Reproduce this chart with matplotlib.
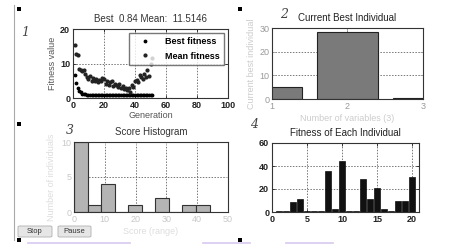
import matplotlib
matplotlib.use("Agg")
import matplotlib.pyplot as plt
from matplotlib.patches import Rectangle, FancyBboxPatch
from matplotlib.lines import Line2D

plt.rcParams['font.family'] = ['Liberation Sans', 'DejaVu Sans']

# data
generations = list(range(1, 52))
best_fitness = [6.7, 4.3, 2.8, 2.0, 1.6, 1.3, 1.2, 1.1, 1.0, 1.0,
                1.0, 1.0, 1.0, 1.0, 1.0, 1.0, 1.0, 1.0, 1.0, 1.0,
                0.95, 0.95, 0.95, 0.95, 0.95, 0.9, 0.9, 0.9, 0.9, 0.9,
                0.9, 0.9, 0.9, 0.9, 0.9, 0.88, 0.88, 0.88, 0.88, 0.88,
                0.86, 0.86, 0.86, 0.86, 0.86, 0.85, 0.85, 0.84, 0.84, 0.84, 0.84]
mean_fitness = [15.5, 12.8, 12.5, 8.5, 8.2, 7.8, 8.0, 7.0, 6.2, 5.5,
                6.5, 5.0, 5.8, 4.8, 5.5, 4.5, 5.2, 4.8, 5.8, 5.5,
                4.2, 5.0, 3.8, 4.5, 4.8, 3.5, 4.2, 3.8, 3.2, 4.0,
                2.8, 3.5, 2.5, 3.0, 2.2, 2.8, 1.8, 3.8, 3.2, 4.8,
                5.2, 4.5, 6.8, 6.2, 5.5, 7.0, 6.0, 8.0, 6.5, 9.8, 11.5]

var_index = [1, 2, 3]
best_individual = [5.0, 28.5, 0.5]

individuals = list(range(1, 21))
fitness_each = [1.0, 1.0, 8.5, 11, 0.84, 0.84, 0.84, 36, 3, 44,
                0.84, 0.84, 29, 11, 21, 3, 0.84, 10, 10, 30.5]

W, H = 456, 244
fig = plt.figure(figsize=(W / 100, H / 100), dpi=100)
fig.patch.set_facecolor('white')


def box(x0, y0, x1, y1):
    # pixel box (top-left origin) -> figure fraction
    return [x0 / W, 1 - y1 / H, (x1 - x0) / W, (y1 - y0) / H]


def fx(x):
    return x / W


def fy(y):
    return 1 - y / H


def style(ax, tickcol, bold):
    ax.tick_params(direction='in', length=2, width=0.6, labelsize=6.5,
                   colors=tickcol, pad=2, top=True, right=True)
    for t in ax.get_xticklabels() + ax.get_yticklabels():
        t.set_color(tickcol)
        if bold:
            t.set_fontweight('bold')
    for s in ax.spines.values():
        s.set_color('#333333')
        s.set_linewidth(0.8)
    ax.grid(True, linestyle=(0, (1.5, 1.5)), color='#777777', linewidth=0.7)
    ax.set_axisbelow(True)


# 1: fitness per generation
ax1 = fig.add_axes(box(73, 29, 228, 98))
ax1.plot(generations, best_fitness, '.', color='black', markersize=3.5, label='Best fitness')
ax1.plot(generations, mean_fitness, '.', color='#222222', markersize=4, label='Mean fitness')
ax1.set_xlim(0, 100)
ax1.set_ylim(0, 20)
ax1.set_xticks([0, 20, 40, 60, 80, 100])
ax1.set_yticks([0, 10, 20])
style(ax1, '#222222', True)
ax1.set_title('Best  0.84 Mean:  11.5146', fontsize=7, color='#333333', pad=5)
ax1.set_xlabel('Generation', fontsize=6.5, color='#555555', labelpad=1)
ax1.set_ylabel('Fitness value', fontsize=6.5, color='#555555', labelpad=2)
leg = ax1.legend(loc='upper right', frameon=True, fancybox=False,
                 handlelength=2.6, borderpad=0.5, labelspacing=0.6, handletextpad=0.9,
                 borderaxespad=0.4, prop={'weight': 'bold', 'size': 6.5})
leg.get_frame().set_edgecolor('#555555')
leg.get_frame().set_linewidth(1.0)

# 2: current best individual
ax2 = fig.add_axes(box(272, 28, 423, 99))
ax2.bar(var_index, best_individual, width=0.8, color='#7a7a7a', edgecolor='#222222', linewidth=0.8)
ax2.set_xlim(1, 3)
ax2.set_ylim(0, 30)
ax2.set_xticks([1, 2, 3])
ax2.set_yticks([0, 10, 20, 30])
style(ax2, '#9a9a9a', False)
ax2.set_title('Current Best Individual', fontsize=7, color='#222222', pad=5)
ax2.set_xlabel('Number of variables (3)', fontsize=6.5, color='#cccccc', labelpad=2)
ax2.set_ylabel('Current best individual', fontsize=6.5, color='#cccccc', labelpad=2)

# 3: score histogram
ax3 = fig.add_axes(box(74, 142, 228, 212))
ax3.hist(fitness_each, bins=10, range=(0, 44), color='#b4b4b4', edgecolor='#333333', linewidth=0.8)
ax3.set_xlim(0, 50)
ax3.set_ylim(0, 10)
ax3.set_xticks([0, 10, 20, 30, 40, 50])
ax3.set_yticks([0, 5, 10])
style(ax3, '#c8c8c8', False)
ax3.set_title('Score Histogram', fontsize=7, color='#333333', pad=5)
ax3.set_xlabel('Score (range)', fontsize=6.5, color='#dddddd', labelpad=2)
ax3.set_ylabel('Number of individuals', fontsize=6.5, color='#dddddd', labelpad=4)

# 4: fitness of each individual
ax4 = fig.add_axes(box(272, 143, 419, 212))
ax4.bar(individuals, fitness_each, width=0.8, color='#111111', edgecolor='#111111', linewidth=0.5)
ax4.set_xlim(0, 21)
ax4.set_ylim(0, 60)
ax4.set_xticks([0, 5, 10, 15, 20])
ax4.set_yticks([0, 20, 40, 60])
style(ax4, '#222222', True)
ax4.set_title('Fitness of Each Individual', fontsize=7, color='#222222', pad=5)

# panel numbers
for num, x, y in [('1', 25, 33), ('2', 284, 15), ('3', 70, 130), ('4', 254, 125)]:
    fig.text(fx(x), fy(y), num, fontsize=9, style='italic', family='DejaVu Serif',
             color='#444444', ha='center', va='center')

# window decorations
fig.add_artist(Line2D([fx(14), fx(14)], [fy(5), fy(240)], color='#aaaaaa', linewidth=0.8))
for x, y in [(19, 9), (19, 124), (19, 240), (240, 9), (240, 240)]:
    fig.add_artist(Rectangle((fx(x - 2), fy(y + 2)), 4 / W, 4 / H,
                             facecolor='black', edgecolor='none'))
for x0, x1 in [(28, 130), (203, 250), (286, 333)]:
    fig.add_artist(Line2D([fx(x0), fx(x1)], [fy(243), fy(243)], color='#d8c8f0', linewidth=1.2))

for label, x0, x1 in [('Stop', 18, 52), ('Pause', 58, 91)]:
    fig.add_artist(FancyBboxPatch((fx(x0), fy(237)), (x1 - x0) / W, 11 / H,
                                  boxstyle='round,pad=0,rounding_size=0.004',
                                  facecolor='#e6e6e6', edgecolor='#b0b0b0', linewidth=0.6))
    fig.text(fx((x0 + x1) / 2), fy(231.5), label, fontsize=5.5, color='#333333',
             ha='center', va='center')

fig.savefig('out.png', dpi=100, facecolor='white')
